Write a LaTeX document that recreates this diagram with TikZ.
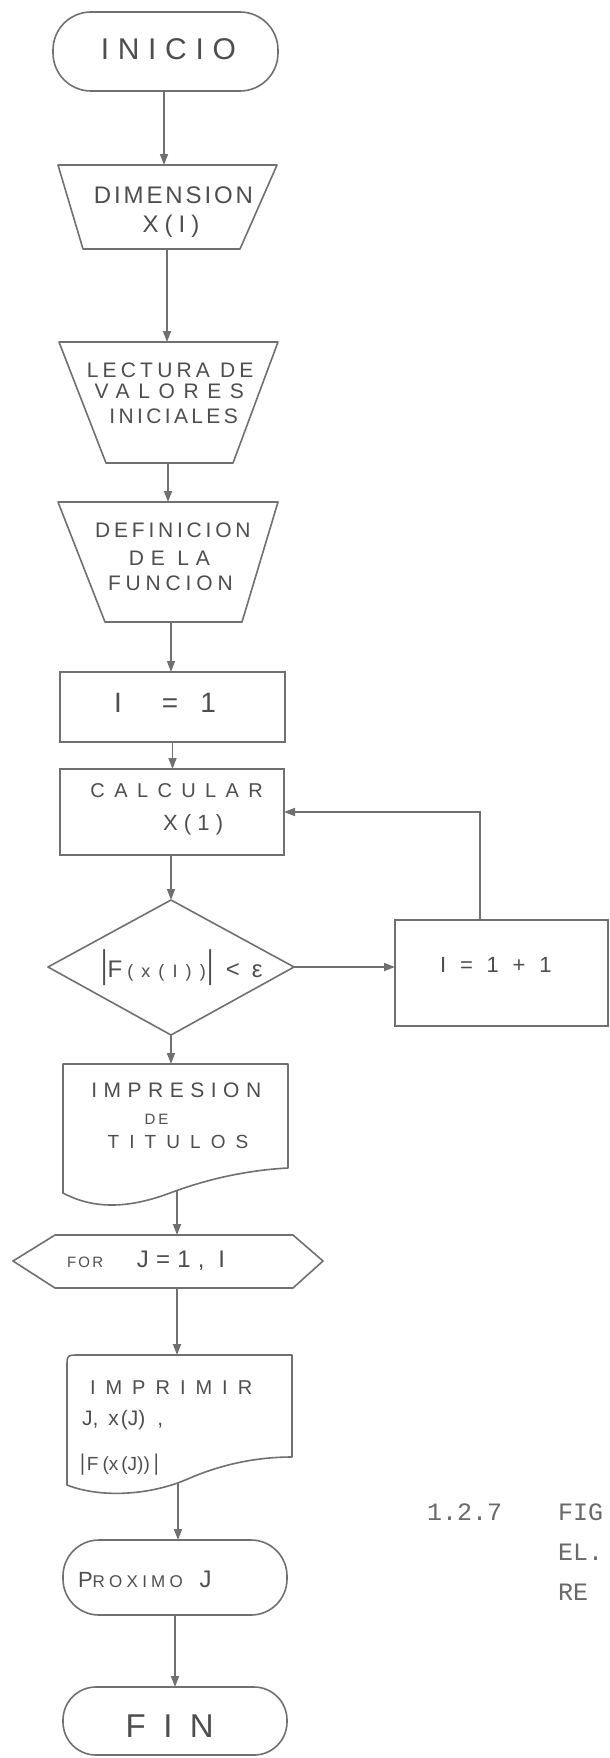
\documentclass[tikz,border=0pt]{standalone}
\usepackage{fontspec}
\setmainfont{Liberation Sans}
\newfontfamily\hand{Liberation Sans}
\newfontfamily\tw{Liberation Mono}
\usetikzlibrary{arrows.meta}
\definecolor{lnc}{HTML}{707070}
\definecolor{tx}{HTML}{4E4E4E}
\newcommand{\ls}[2]{{\addfontfeature{LetterSpace=#1}#2\kern-\dimexpr\fontdimen6\font*#1/100\relax}}
\newcommand{\fs}[1]{\fontsize{#1}{#1}\selectfont}
\newcommand{\tbar}[1]{\scalebox{1}[#1]{|}}
\begin{document}
\begin{tikzpicture}[x=1pt,y=-1pt,
  cline/.style={draw=lnc,line width=1.6pt,line join=round},
  arr/.style={draw=lnc,line width=1.6pt,-{Triangle[length=11pt,width=8pt]}},
  sbox/.style={draw=lnc,line width=1.6pt,inner sep=0pt,outer sep=0pt},
  txt/.style={inner sep=0pt,outer sep=0pt,anchor=base,text=tx,font=\hand},
  txtl/.style={txt,anchor=base west},
  typed/.style={inner sep=0pt,outer sep=0pt,anchor=base west,text=tx!85,font={\tw\fs{25}}}]
\useasboundingbox (0,0) rectangle (610,1758);
\fill[white] (0,0) rectangle (610,1758);

% INICIO
\node[sbox,rounded corners=38pt,minimum width=225pt,minimum height=79pt] (inicio) at (165.5,51.5) {};
\node[txt] (tInicio) at (164,60) {\fs{30}\ls{29}{INICIO}};

% DIMENSION
\draw[cline] (58,165) -- (277,165) -- (240,249) -- (83,249) -- cycle;
\coordinate (dimT) at (164,165);
\coordinate (dimB) at (167,249);
\node[txt] (tDim1) at (172,203) {\fs{24}\ls{12}{DIMENSION}};
\node[txt] (tDim2) at (168,232) {\fs{24}\ls{25}{X(I)}};

% LECTURA
\draw[cline] (59,342) -- (278,342) -- (233,463) -- (106,463) -- cycle;
\coordinate (lecT) at (167,342);
\coordinate (lecB) at (168,463);
\node[txt] (tLec1) at (168,377) {\fs{21}\ls{20}{LECTURA DE}};
\node[txt] (tLec2) at (165,398) {\fs{21}\ls{41}{VALORES}};
\node[txt] (tLec3) at (172,423) {\fs{21}\ls{16}{INICIALES}};

% DEFINICION
\draw[cline] (58,502) -- (278,502) -- (242,622) -- (105,622) -- cycle;
\coordinate (defT) at (168,502);
\coordinate (defB) at (171,622);
\node[txt] (tDef1) at (171,537) {\fs{21}\ls{18}{DEFINICION}};
\node[txt] (tDef2) at (166,565) {\fs{21}\ls{32}{DE LA}};
\node[txt] (tDef3) at (168,590) {\fs{21}\ls{23}{FUNCION}};

% I = 1
\node[sbox,minimum width=225pt,minimum height=70pt] (i1) at (172.5,707) {};
\node[txt] (tI1) at (165,712) {\fs{28}I\hspace{40pt}=\hspace{22pt}1};

% CALCULAR
\node[sbox,minimum width=224pt,minimum height=86pt] (calc) at (172,812) {};
\node[txt] (tCalc1) at (172,797) {\fs{20}\ls{47}{CALCULAR}};
\node[txt] (tCalc2) at (190,830) {\fs{22}\ls{28}{X(1)}};

% decision
\coordinate (decT) at (171,900);
\coordinate (decL) at (48,967);
\coordinate (decR) at (294,967);
\coordinate (decB) at (171,1035);
\draw[cline] (decT) -- (decR) -- (decB) -- (decL) -- cycle;
\node[txt] (tDec) at (182,977) {\fs{24}\tbar{1.6}F\hspace{5pt}{\fs{18}\ls{45}{(x(I))}}\hspace{10pt}\tbar{1.6}\hspace{12pt}{\fs{24}<\hspace{12pt}ε}};

% I = I + 1
\node[sbox,minimum width=213pt,minimum height=106pt] (inc) at (501.5,973) {};
\node[txt] (tInc) at (492,972) {\fs{22}\ls{35}{I = 1 + 1}};

% IMPRESION DE TITULOS
\draw[cline] (63,1193) -- (63,1064) -- (288,1064) -- (288,1168) .. controls (250,1170) and (210,1178) .. (170,1193) .. controls (130,1208) and (95,1210) .. (63,1193) -- cycle;
\coordinate (impT) at (171,1064);
\coordinate (impB) at (177,1191);
\node[txt] (tImp1) at (173,1097) {\fs{21}\ls{31}{IMPRESION}};
\node[txt] (tImp2) at (155,1124) {\fs{15}\ls{20}{DE}};
\node[txt] (tImp3) at (173,1148) {\fs{19}\ls{53}{TITULOS}};

% FOR
\draw[cline] (13,1261) -- (55,1235) -- (293,1235) -- (323,1261) -- (293,1288) -- (55,1288) -- cycle;
\coordinate (forT) at (177,1235);
\coordinate (forB) at (177,1288);
\node[txtl] (tFor) at (67,1267) {\fs{15}\ls{15}{FOR}\hspace{36pt}\fs{24}\ls{30}{J=1, I}};

% IMPRIMIR
\draw[cline] (292,1457) -- (292,1355) -- (79,1355) .. controls (67,1355) .. (67,1367) -- (67,1485) .. controls (100,1498) and (150,1496) .. (190,1478) .. controls (225,1463) and (260,1457) .. (292,1457) -- cycle;
\coordinate (imprT) at (177,1355);
\coordinate (imprB) at (178,1483);
\node[txtl] (tImpr1) at (90,1394) {\fs{20}\ls{50}{IMPRIMIR}};
\node[txtl] (tImpr2) at (82,1425) {\fs{21}J,\hspace{10pt}x\hspace{2pt}(J)\hspace{12pt},};
\node[txtl] (tImpr3) at (80,1470) {\fs{19}\tbar{1.2}\hspace{2pt}F\hspace{4pt}(x\hspace{3pt}(J))\hspace{4pt}\tbar{1.2}};

% PROXIMO J
\node[sbox,rounded corners=36pt,minimum width=224pt,minimum height=75pt] (prox) at (175,1577.5) {};
\node[txtl] (tProx) at (78,1587) {\fs{22}P\fs{17}\ls{25}{ROXIMO}\hspace{21pt}\fs{24}J};

% FIN
\node[sbox,rounded corners=33pt,minimum width=224pt,minimum height=68pt] (fin) at (175,1721) {};
\node[txt] (tFin) at (161,1737) {\fs{33}\ls{53}{FIN}};

% connectors
\draw[arr] (inicio.south -| dimT) -- (dimT);
\draw[arr] (dimB) -- (dimB |- lecT);
\draw[arr] (lecB) -- (lecB |- defT);
\draw[arr] (defB) -- (defB |- i1.north);
\draw[arr] (i1.south) -- (i1.south |- calc.north);
\draw[arr] (calc.south -| decT) -- (decT);
\draw[arr] (decR) -- (decR -| inc.west);
\coordinate (loopC) at (480,812);
\draw[arr] (loopC |- inc.north) -- (loopC) -- (loopC -| calc.east);
\draw[arr] (decB) -- (decB |- impT);
\draw[arr] (impB) -- (impB |- forT);
\draw[arr] (forB) -- (forB |- imprT);
\draw[arr] (imprB) -- (imprB |- prox.north);
\draw[arr] (prox.south) -- (fin.north);

% side note
\node[typed] (n1) at (427,1520) {1.2.7};
\node[typed] (n2) at (558,1520) {FIG};
\node[typed] (n3) at (558,1560) {EL.};
\node[typed] (n4) at (558,1600) {RE};
\end{tikzpicture}
\end{document}
